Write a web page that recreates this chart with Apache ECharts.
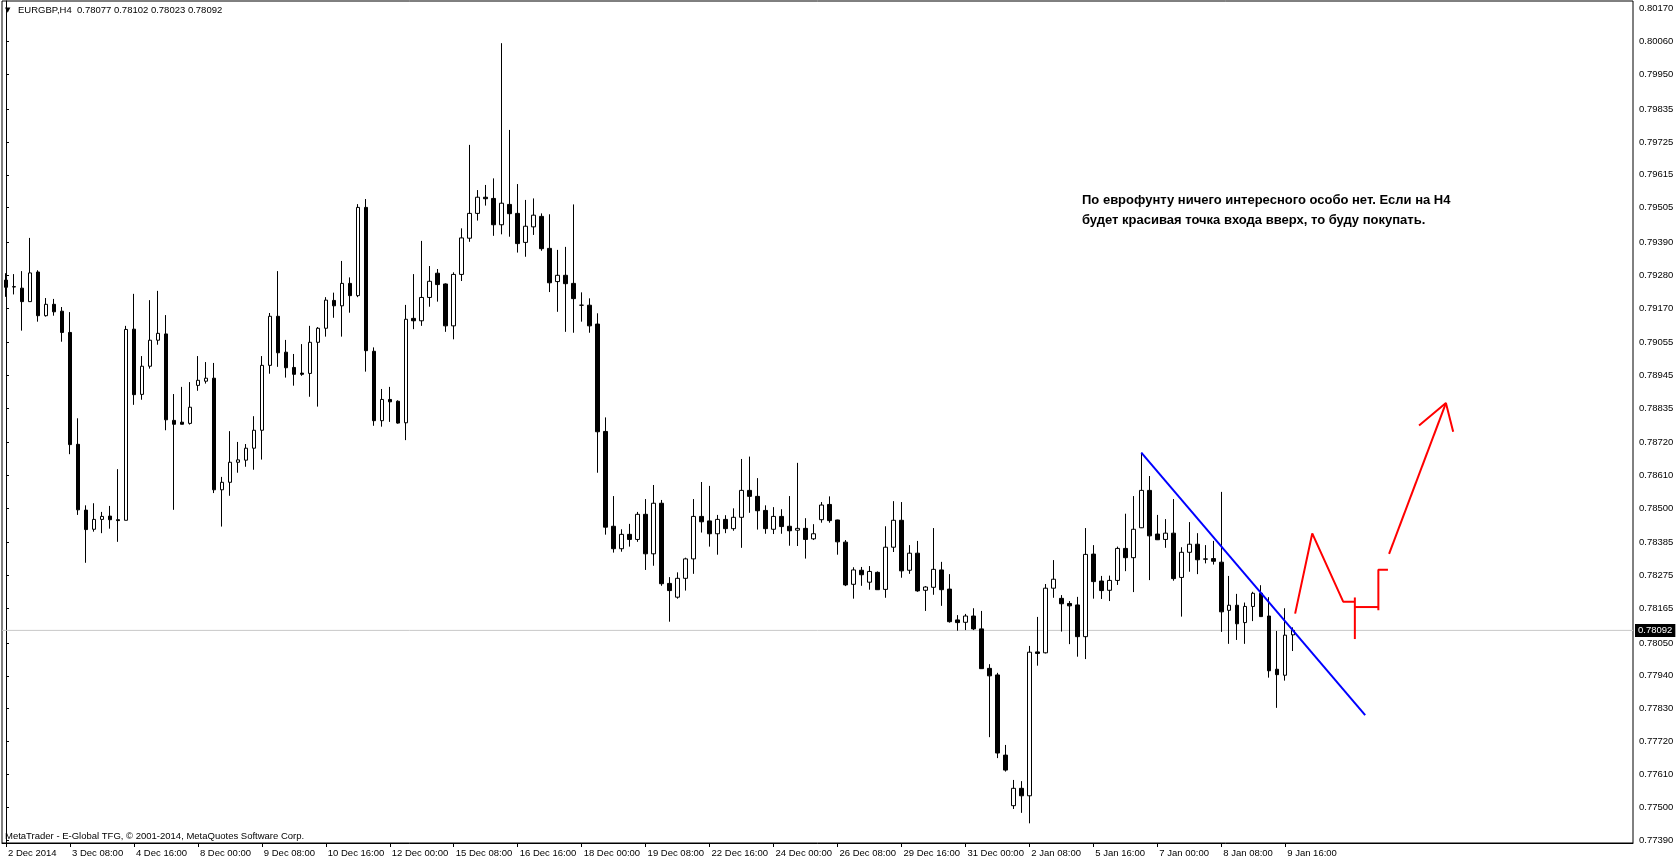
<!DOCTYPE html>
<html><head><meta charset="utf-8">
<script src="https://cdn.jsdelivr.net/npm/echarts@6.0.0/dist/echarts.min.js"></script>
<style>html,body{margin:0;padding:0;background:#fff}#c{width:1676px;height:861px}</style>
</head><body><div id="c"></div><script>
// ---- data ----
const tickLabels = ["2 Dec 2014","3 Dec 08:00","4 Dec 16:00","8 Dec 00:00","9 Dec 08:00","10 Dec 16:00","12 Dec 00:00","15 Dec 08:00","16 Dec 16:00","18 Dec 00:00","19 Dec 08:00","22 Dec 16:00","24 Dec 00:00","26 Dec 08:00","29 Dec 16:00","31 Dec 00:00","2 Jan 08:00","5 Jan 16:00","7 Jan 00:00","8 Jan 08:00","9 Jan 16:00"];
const priceTicks = [0.80170,0.80060,0.79950,0.79835,0.79725,0.79615,0.79505,0.79390,0.79280,0.79170,0.79055,0.78945,0.78835,0.78720,0.78610,0.78500,0.78385,0.78275,0.78165,0.78050,0.77940,0.77830,0.77720,0.77610,0.77500,0.77390];
const opens = [0.79263,0.79241,0.79236,0.79191,0.79290,0.79144,0.79182,0.79159,0.79088,0.78714,
0.78494,0.78430,0.78463,0.78474,0.78462,0.78460,0.79099,0.78881,0.78975,0.79062,
0.79083,0.78794,0.78788,0.78784,0.78911,0.78925,0.78935,0.78562,0.78587,0.78654,
0.78661,0.78701,0.78761,0.78978,0.79142,0.79022,0.78971,0.78952,0.78951,0.79055,
0.79102,0.79195,0.79177,0.79252,0.79211,0.79506,0.79025,0.78793,0.78864,0.78858,
0.78786,0.79135,0.79127,0.79205,0.79286,0.79250,0.79110,0.79282,0.79403,0.79486,
0.79540,0.79536,0.79448,0.79516,0.79486,0.79389,0.79441,0.79476,0.79369,0.79258,
0.79279,0.79252,0.79179,0.79179,0.79116,0.78757,0.78440,0.78365,0.78413,0.78396,
0.78480,0.78348,0.78517,0.78249,0.78203,0.78266,0.78331,0.78473,0.78458,0.78415,
0.78463,0.78432,0.78470,0.78560,0.78540,0.78493,0.78430,0.78473,0.78440,0.78427,
0.78433,0.78398,0.78462,0.78513,0.78461,0.78387,0.78246,0.78293,0.78253,0.78286,
0.78229,0.78370,0.78460,0.78293,0.78350,0.78226,0.78236,0.78294,0.78230,0.78127,
0.78119,0.78140,0.78097,0.77965,0.77943,0.77675,0.77506,0.77564,0.77539,0.78020,
0.78017,0.78233,0.78199,0.78182,0.78177,0.78071,0.78347,0.78257,0.78226,0.78259,
0.78366,0.78335,0.78435,0.78560,0.78414,0.78396,0.78417,0.78269,0.78353,0.78380,
0.78331,0.78332,0.78320,0.78159,0.78176,0.78118,0.78172,0.78216,0.78140,0.77962,
0.77942,0.78077];
const closes = [0.79239,0.79240,0.79191,0.79287,0.79144,0.79182,0.79157,0.79088,0.78713,0.78495,
0.78429,0.78463,0.78473,0.78462,0.78459,0.79098,0.78880,0.78975,0.79062,0.79085,
0.78796,0.78781,0.78781,0.78838,0.78928,0.78935,0.78562,0.78587,0.78654,0.78662,
0.78701,0.78761,0.78978,0.79142,0.79020,0.78970,0.78948,0.78948,0.79055,0.79102,
0.79196,0.79177,0.79252,0.79211,0.79506,0.79027,0.78793,0.78864,0.78856,0.78785,
0.79132,0.79127,0.79205,0.79259,0.79248,0.79110,0.79282,0.79404,0.79486,0.79540,
0.79535,0.79448,0.79520,0.79485,0.79385,0.79443,0.79480,0.79368,0.79254,0.79279,
0.79251,0.79201,0.79179,0.79110,0.78756,0.78437,0.78365,0.78413,0.78396,0.78480,
0.78348,0.78517,0.78248,0.78225,0.78266,0.78331,0.78473,0.78455,0.78415,0.78463,
0.78432,0.78470,0.78560,0.78540,0.78492,0.78432,0.78473,0.78439,0.78425,0.78433,
0.78396,0.78415,0.78511,0.78459,0.78388,0.78244,0.78294,0.78278,0.78289,0.78228,
0.78370,0.78460,0.78291,0.78350,0.78224,0.78237,0.78296,0.78228,0.78121,0.78118,
0.78140,0.78097,0.77964,0.77940,0.77682,0.77625,0.77564,0.77539,0.78019,0.78015,
0.78233,0.78263,0.78181,0.78174,0.78071,0.78346,0.78255,0.78225,0.78259,0.78366,
0.78335,0.78430,0.78560,0.78408,0.78395,0.78417,0.78265,0.78353,0.78380,0.78328,
0.78330,0.78323,0.78154,0.78176,0.78114,0.78172,0.78216,0.78138,0.77957,0.77944,
0.78076,0.78092];
const lows = [0.79207,0.79215,0.79094,0.79191,0.79124,0.79141,0.79144,0.79057,0.78681,0.78478,
0.78318,0.78422,0.78417,0.78432,0.78388,0.78460,0.78846,0.78863,0.78967,0.79047,
0.78761,0.78495,0.78781,0.78780,0.78893,0.78917,0.78551,0.78439,0.78542,0.78619,
0.78639,0.78629,0.78663,0.78950,0.78973,0.78937,0.78910,0.78943,0.78873,0.78840,
0.79074,0.79137,0.79074,0.79154,0.79206,0.78957,0.78776,0.78773,0.78789,0.78783,
0.78728,0.79099,0.79110,0.79174,0.79191,0.79090,0.79065,0.79260,0.79391,0.79462,
0.79512,0.79411,0.79416,0.79408,0.79355,0.79341,0.79414,0.79361,0.79223,0.79157,
0.79090,0.79087,0.79124,0.79087,0.78619,0.78412,0.78352,0.78355,0.78372,0.78388,
0.78294,0.78308,0.78241,0.78121,0.78198,0.78225,0.78281,0.78419,0.78372,0.78345,
0.78417,0.78425,0.78368,0.78485,0.78429,0.78415,0.78414,0.78415,0.78375,0.78374,
0.78332,0.78394,0.78452,0.78452,0.78345,0.78240,0.78198,0.78241,0.78228,0.78227,
0.78201,0.78354,0.78268,0.78281,0.78221,0.78157,0.78211,0.78174,0.78118,0.78091,
0.78093,0.78093,0.77963,0.77735,0.77665,0.77620,0.77495,0.77482,0.77447,0.77974,
0.78015,0.78201,0.78088,0.78046,0.78004,0.77996,0.78198,0.78197,0.78190,0.78244,
0.78290,0.78220,0.78434,0.78260,0.78394,0.78368,0.78258,0.78138,0.78288,0.78280,
0.78316,0.78312,0.78087,0.78047,0.78060,0.78047,0.78123,0.78137,0.77934,0.77833,
0.77924,0.78023];
const highs = [0.79286,0.79283,0.79293,0.79404,0.79296,0.79203,0.79200,0.79173,0.79156,0.78801,
0.78510,0.78517,0.78488,0.78508,0.78631,0.79110,0.79217,0.79009,0.79196,0.79227,
0.79146,0.78882,0.78906,0.78922,0.79009,0.78989,0.78986,0.78605,0.78758,0.78722,
0.78715,0.78808,0.79009,0.79153,0.79293,0.79063,0.79016,0.79049,0.79110,0.79106,
0.79206,0.79221,0.79327,0.79272,0.79517,0.79534,0.79038,0.78899,0.78906,0.78861,
0.79180,0.79283,0.79394,0.79310,0.79300,0.79252,0.79289,0.79436,0.79715,0.79564,
0.79581,0.79603,0.80055,0.79765,0.79584,0.79531,0.79536,0.79486,0.79483,0.79364,
0.79374,0.79516,0.79222,0.79202,0.79152,0.78804,0.78541,0.78430,0.78448,0.78488,
0.78531,0.78578,0.78528,0.78270,0.78286,0.78335,0.78531,0.78588,0.78575,0.78478,
0.78477,0.78500,0.78665,0.78673,0.78601,0.78510,0.78504,0.78497,0.78541,0.78652,
0.78467,0.78447,0.78521,0.78540,0.78462,0.78394,0.78303,0.78304,0.78307,0.78289,
0.78440,0.78524,0.78521,0.78377,0.78391,0.78240,0.78434,0.78321,0.78280,0.78143,
0.78147,0.78166,0.78157,0.77979,0.77950,0.77709,0.77592,0.77588,0.78040,0.78137,
0.78247,0.78327,0.78210,0.78190,0.78204,0.78434,0.78377,0.78274,0.78275,0.78372,
0.78482,0.78541,0.78686,0.78608,0.78478,0.78464,0.78531,0.78370,0.78454,0.78417,
0.78377,0.78391,0.78555,0.78274,0.78214,0.78185,0.78221,0.78243,0.78203,0.78090,
0.78166,0.78102];
const lastPrice = 0.78092;
const headerText = 'EURGBP,H4  0.78077 0.78102 0.78023 0.78092';
const copyrightText = 'MetaTrader - E-Global TFG, \u00a9 2001-2014, MetaQuotes Software Corp.';
const noteText = 'По еврофунту ничего интересного особо нет. Если на H4\nбудет красивая точка входа вверх, то буду покупать.';
// drawn objects, in [bar index, price]
const blueTrend = [[142, 0.78686], [170, 0.77809]];
const redZigzag = [[161.24, 0.78148], [163.38, 0.78416], [167.25, 0.78188], [168.71, 0.78188]];
const redTick1 = [[168.71, 0.78202], [168.71, 0.78063]];
const redStep = [[168.71, 0.78170], [171.65, 0.78170]];
const redTick2 = [[171.65, 0.78159], [171.65, 0.78295], [172.85, 0.78295]];
const redArrowLine = [[172.99, 0.78348], [180.10, 0.78852]];
const redArrowHead = [[176.74, 0.78777], [180.10, 0.78852], [181.01, 0.78756]];

// ---- build ----
const totalSlots = 204;
const categories = Array.from({length: totalSlots}, (_, i) => String(i));
const candleData = opens.map((o, i) => [o, closes[i], lows[i], highs[i]]);
const axisFont = "'Liberation Sans',Arial,sans-serif";
const axisSize = 9.5;
const isLabelSlot = (i) => i % 8 === 0 && i / 8 < tickLabels.length;

function redSeries(d) {
  return { type: 'line', xAxisIndex: 1, yAxisIndex: 0, data: d, symbol: 'none', silent: true,
    lineStyle: { color: '#ff0000', width: 2 }, z: 5, animation: false };
}

const chart = echarts.init(document.getElementById('c'), null, { renderer: 'canvas' });
chart.setOption({
  animation: false,
  backgroundColor: '#ffffff',
  grid: { left: 2, right: 43, top: 1, bottom: 18, show: true, borderColor: '#000', borderWidth: 1,
          backgroundColor: 'transparent', containLabel: false, outerBoundsMode: 'none' },
  xAxis: [{
    type: 'category', data: categories, boundaryGap: true,
    axisLine: { show: true, lineStyle: { color: '#000', width: 1 } },
    axisTick: { show: true, interval: isLabelSlot, alignWithLabel: true, length: 4, lineStyle: { color: '#000' } },
    axisLabel: { interval: isLabelSlot, formatter: (v, i) => tickLabels[i / 8] || '', align: 'left',
      margin: 5, padding: [0, 0, 0, 2], color: '#000', fontFamily: axisFont, fontSize: axisSize },
    splitLine: { show: false }
  }, {
    type: 'value', min: -0.5, max: totalSlots - 0.5, show: false
  }],
  yAxis: [{
    type: 'value', position: 'right', min: 0.773812, max: 0.80196, scale: true,
    axisLine: { show: true, lineStyle: { color: '#000', width: 1 } },
    axisTick: { show: true, customValues: priceTicks, length: 3, lineStyle: { color: '#000' } },
    axisLabel: { customValues: priceTicks, formatter: (v) => Number(v).toFixed(5), margin: 6,
      color: '#000', fontFamily: axisFont, fontSize: axisSize },
    splitLine: { show: false }
  }],
  series: [
    { type: 'line', xAxisIndex: 1, yAxisIndex: 0, symbol: 'none', silent: true, z: 1, animation: false,
      data: [[-0.5, lastPrice], [totalSlots - 0.5, lastPrice]],
      lineStyle: { color: '#c8c8c8', width: 1 },
      endLabel: { show: true, formatter: () => lastPrice.toFixed(5), distance: 2,
        backgroundColor: '#000', color: '#fff', padding: [2, 3, 1, 3], fontFamily: axisFont, fontSize: axisSize } },
    {
      type: 'candlestick', xAxisIndex: 0, yAxisIndex: 0, data: candleData, barWidth: 4,
      itemStyle: { color: '#ffffff', color0: '#000000', borderColor: '#000000', borderColor0: '#000000', borderWidth: 1 },
      z: 3
    },
    { type: 'line', xAxisIndex: 1, yAxisIndex: 0, data: blueTrend, symbol: 'none', silent: true,
      lineStyle: { color: '#0000ff', width: 2 }, z: 5, animation: false },
    redSeries(redZigzag), redSeries(redTick1), redSeries(redStep), redSeries(redTick2),
    redSeries(redArrowLine), redSeries(redArrowHead)
  ],
  graphic: [
    { type: 'text', left: 5, top: 7, style: { text: '\u25BC', font: "7px 'DejaVu Sans'", fill: '#000' } },
    { type: 'text', left: 18, top: 5, style: { text: headerText, font: axisSize + "px 'Liberation Sans',Arial,sans-serif", fill: '#000' } },
    { type: 'text', left: 5, top: 831, style: { text: copyrightText, font: axisSize + "px 'Liberation Sans',Arial,sans-serif", fill: '#000' } },
    { type: 'text', left: 1082, top: 190, style: { text: noteText, font: "bold 13px 'Liberation Sans',Arial,sans-serif", fill: '#000', lineHeight: 20 } }
  ]
});
</script></body></html>
